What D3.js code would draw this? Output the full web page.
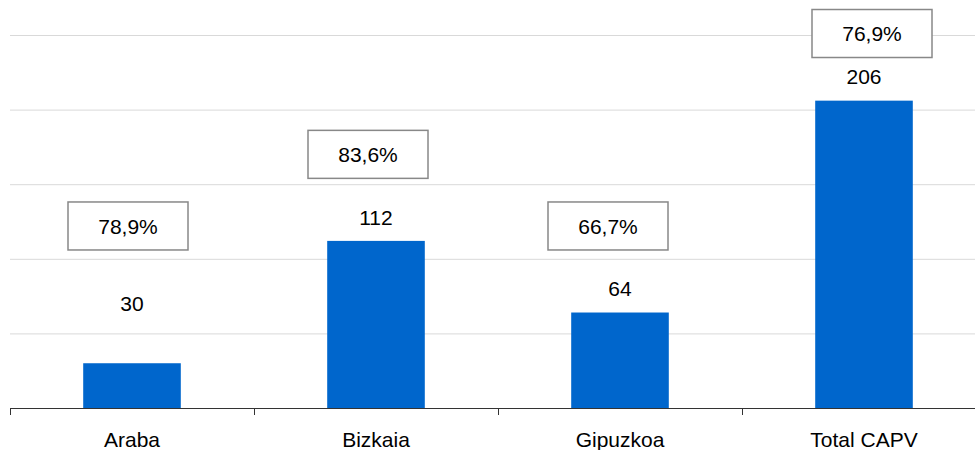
<!DOCTYPE html>
<html>
<head>
<meta charset="utf-8">
<script src="https://cdn.jsdelivr.net/npm/d3@7"></script>
<style>
  body { margin: 0; background: #fff; }
  svg { display: block; font-family: "Liberation Sans", Arial, sans-serif; }
</style>
</head>
<body>
<div id="chart"></div>
<script>
// chart data
const categories = ["Araba", "Bizkaia", "Gipuzkoa", "Total CAPV"];
const values = [30, 112, 64, 206];
const percents = ["78,9%", "83,6%", "66,7%", "76,9%"];
const yTicks = [0, 50, 100, 150, 200, 250];
// where each percent box sits, in value units
const boxLevel = [122, 170, 122, 251];

const W = 975, H = 450;
const margin = { top: 35, right: -11, bottom: 42, left: 10 };
const innerW = W - margin.left - margin.right;
const innerH = H - margin.top - margin.bottom;

// the boxes were hand placed in the original, a bit off the bar centres
const boxNudge = [-4, -8, -12, 8];

const svg = d3.select("#chart").append("svg")
    .attr("width", W)
    .attr("height", H);

const g = svg.append("g")
    .attr("transform", "translate(" + margin.left + "," + margin.top + ")");

let x = d3.scaleBand()
    .domain(categories)
    .range([0, innerW])
    .padding(0);

let y = d3.scaleLinear()
    .domain([0, 250])
    .range([innerH, 0]);

// gridlines
g.append("g")
    .selectAll("line")
    .data(yTicks.slice(1))
    .enter().append("line")
    .attr("x1", 0)
    .attr("x2", W - margin.left)
    .attr("y1", d => y(d) + 0.5)
    .attr("y2", d => y(d) + 0.5)
    .attr("stroke", "#d9d9d9")
    .attr("stroke-width", 1);

// bars
const barW = x.bandwidth() * 0.4;
g.append("g")
    .selectAll("rect")
    .data(values)
    .enter().append("rect")
    .attr("x", (d, i) => x(categories[i]) + x.bandwidth() / 2 - barW / 2)
    .attr("y", d => y(d))
    .attr("width", barW)
    .attr("height", d => innerH - y(d))
    .attr("fill", "#0066cc");

// x axis
const xAxis = g.append("g")
    .attr("transform", "translate(0," + innerH + ")");
xAxis.append("line")
    .attr("x1", 0).attr("x2", W - margin.left)
    .attr("y1", 0.5).attr("y2", 0.5)
    .attr("stroke", "#333");
xAxis.selectAll("line.tick")
    .data(categories)
    .enter().append("line")
    .attr("class", "tick")
    .attr("x1", d => Math.round(x(d)) + 0.5)
    .attr("x2", d => Math.round(x(d)) + 0.5)
    .attr("y1", 0).attr("y2", 7)
    .attr("stroke", "#333");
xAxis.selectAll("text")
    .data(categories)
    .enter().append("text")
    .attr("x", d => x(d) + x.bandwidth() / 2)
    .attr("y", 39)
    .attr("text-anchor", "middle")
    .attr("font-size", 21)
    .attr("fill", "#000")
    .text(d => d);

// value labels
g.append("g")
    .selectAll("text")
    .data(values)
    .enter().append("text")
    .attr("x", (d, i) => x(categories[i]) + x.bandwidth() / 2)
    .attr("y", d => y(Math.max(d + 16, 70)))
    .attr("dy", "0.36em")
    .attr("text-anchor", "middle")
    .attr("font-size", 21)
    .attr("fill", "#000")
    .text(d => d);

// percent boxes
const boxW = 120, boxH = 48;
const boxes = g.append("g")
    .selectAll("g")
    .data(percents)
    .enter().append("g")
    .attr("transform", (d, i) => "translate(" + (x(categories[i]) + x.bandwidth() / 2 + boxNudge[i]) + "," + y(boxLevel[i]) + ")");

boxes.append("rect")
    .attr("x", -boxW / 2)
    .attr("y", -boxH / 2)
    .attr("width", boxW)
    .attr("height", boxH)
    .attr("fill", "#fff")
    .attr("stroke", "#888")
    .attr("stroke-width", 1.5);

boxes.append("text")
    .attr("text-anchor", "middle")
    .attr("dy", "0.36em")
    .attr("font-size", 21)
    .attr("fill", "#000")
    .text(d => d);
</script>
</body>
</html>
